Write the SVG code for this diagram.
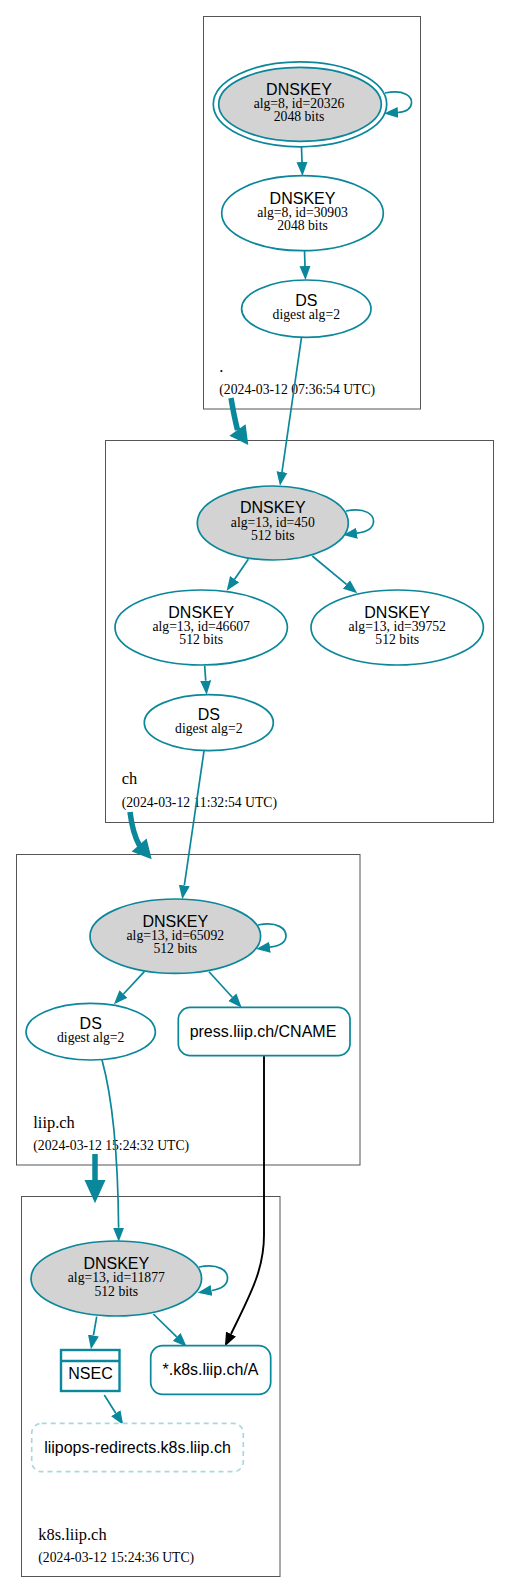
<svg xmlns="http://www.w3.org/2000/svg" width="509" height="1594" viewBox="0 0 509 1594">
<style>
.cl{fill:#fff;stroke:#555;stroke-width:1}
.n{fill:#fff;stroke:#0a879a;stroke-width:1.7}
.k{fill:#d3d3d3;stroke:#0a879a;stroke-width:1.7}
.e{fill:none;stroke:#0a879a;stroke-width:1.7}
.eb{fill:none;stroke:#000;stroke-width:1.9}
.et{fill:none;stroke:#0a879a;stroke-width:5.5}
.ah{fill:#0a879a}
.dash{fill:#fff;stroke:#a9d7df;stroke-width:1.7;stroke-dasharray:5,4}
.nsec{fill:#fff;stroke:#0a879a;stroke-width:2.4}
.h{font-family:"Liberation Sans",Arial,sans-serif;font-size:16px;fill:#000;text-anchor:middle}
.t{font-family:"Liberation Serif","Times New Roman",serif;font-size:13.7px;fill:#000;text-anchor:middle}
.cn{font-family:"Liberation Serif","Times New Roman",serif;font-size:16.4px;fill:#000}
.ts{font-family:"Liberation Serif","Times New Roman",serif;font-size:13.7px;fill:#000}
</style>
<defs>
<marker id="arr" markerUnits="userSpaceOnUse" markerWidth="15" markerHeight="12" viewBox="0 -6 15 12" refX="0" refY="0" orient="auto"><path d="M0,-5.5 L14,0 L0,5.5 z" fill="#0a879a"/></marker>
<marker id="arrb" markerUnits="userSpaceOnUse" markerWidth="15" markerHeight="12" viewBox="0 -6 15 12" refX="0" refY="0" orient="auto"><path d="M0,-5.5 L14,0 L0,5.5 z" fill="#000"/></marker>
</defs>
<g id="clusters">
<g id="cluster-root"><rect class="cl" x="203.5" y="16.5" width="217" height="392.5"/><text class="cn" x="219.3" y="371.7">.</text><text class="ts" x="219.3" y="394">(2024-03-12 07:36:54 UTC)</text></g>
<g id="cluster-ch"><rect class="cl" x="105.5" y="440.5" width="388" height="382"/><text class="cn" x="121.7" y="784">ch</text><text class="ts" x="121.7" y="807.3">(2024-03-12 11:32:54 UTC)</text></g>
<g id="cluster-liip"><rect class="cl" x="16.5" y="854.5" width="343.5" height="310.5"/><text class="cn" x="33.3" y="1128.3">liip.ch</text><text class="ts" x="33.3" y="1150">(2024-03-12 15:24:32 UTC)</text></g>
<g id="cluster-k8s"><rect class="cl" x="21.5" y="1196.5" width="258.5" height="380"/><text class="cn" x="38.3" y="1540">k8s.liip.ch</text><text class="ts" x="38.3" y="1561.7">(2024-03-12 15:24:36 UTC)</text></g>
</g>
<g id="connectors">
<path class="et" d="M231,398 C233,410 235,420 237.5,430"/>
<polygon class="ah" points="248.3,445 245.6,424.2 229.4,435.8"/>
<path class="et" d="M130,812 C131.5,824 134,836 139.5,845.5"/>
<polygon class="ah" points="151.7,859.3 146.6,838.4 131.6,851.6"/>
<path class="et" d="M95,1154 V1182"/>
<polygon class="ah" points="95,1203.3 84.5,1180 105.5,1180"/>
<path class="e" marker-end="url(#arr)" d="M385,93 C405,89 412,97 411.5,103 C411,109 405,112 398,112.5"/>
<path class="e" marker-end="url(#arr)" d="M301.5,147 L302,162"/>
<path class="e" marker-end="url(#arr)" d="M304.5,250.7 L305,266"/>
<path class="e" marker-end="url(#arr)" d="M301.5,337.5 L282,472"/>
<path class="e" marker-end="url(#arr)" d="M346,511 C366,507 374,515 373.5,522 C373,529 366,532 357,533.2"/>
<path class="e" marker-end="url(#arr)" d="M248.3,559.3 L234.6,579.2"/>
<path class="e" marker-end="url(#arr)" d="M312.3,556 L346.5,584.4"/>
<path class="e" marker-end="url(#arr)" d="M204.7,665.7 L205.7,680.7"/>
<path class="e" marker-end="url(#arr)" d="M204,751 L184.3,885.5"/>
<path class="e" marker-end="url(#arr)" d="M258,925 C278,921 286,929 286,936 C286,943 279,946 270,947.2"/>
<path class="e" marker-end="url(#arr)" d="M144.3,971.7 L123.5,994"/>
<path class="e" marker-end="url(#arr)" d="M209,971.7 L232.3,997.3"/>
<path class="e" marker-end="url(#arr)" d="M102,1060 C113,1100 118,1160 118.6,1227.7"/>
<path class="eb" marker-end="url(#arrb)" d="M264,1056 V1235 C264,1270 250,1295 231,1334"/>
<path class="e" marker-end="url(#arr)" d="M199,1267 C219,1263 227.5,1271 227.5,1278 C227.5,1285 221,1289 211.5,1290.5"/>
<path class="e" marker-end="url(#arr)" d="M96.7,1316.7 L93.4,1335.5"/>
<path class="e" marker-end="url(#arr)" d="M153.3,1314 L176.7,1336.9"/>
<path class="e" marker-end="url(#arr)" d="M104.3,1395 L115.8,1413.2"/>
</g>
<g id="root-ksk"><ellipse class="n" cx="300" cy="104.3" rx="86.7" ry="42.5"/><ellipse class="k" cx="300" cy="104.3" rx="81.3" ry="37"/><text class="h" x="299" y="94.5">DNSKEY</text><text class="t" x="299" y="107.8">alg=8, id=20326</text><text class="t" x="299" y="120.8">2048 bits</text></g>
<g id="root-zsk"><ellipse class="n" cx="302.5" cy="213.2" rx="80.8" ry="37.5"/><text class="h" x="302.5" y="204">DNSKEY</text><text class="t" x="302.5" y="217.3">alg=8, id=30903</text><text class="t" x="302.5" y="230.3">2048 bits</text></g>
<g id="root-ds"><ellipse class="n" cx="306.3" cy="308.7" rx="64.7" ry="28.7"/><text class="h" x="306.3" y="306">DS</text><text class="t" x="306.3" y="319">digest alg=2</text></g>
<g id="ch-ksk"><ellipse class="k" cx="272.8" cy="523" rx="75.5" ry="37"/><text class="h" x="272.8" y="513.3">DNSKEY</text><text class="t" x="272.8" y="526.7">alg=13, id=450</text><text class="t" x="272.8" y="539.5">512 bits</text></g>
<g id="ch-zsk-46607"><ellipse class="n" cx="201.2" cy="627.5" rx="86.2" ry="37.5"/><text class="h" x="201.2" y="618.3">DNSKEY</text><text class="t" x="201.2" y="631">alg=13, id=46607</text><text class="t" x="201.2" y="644.3">512 bits</text></g>
<g id="ch-zsk-39752"><ellipse class="n" cx="397.2" cy="627.5" rx="86.2" ry="37.5"/><text class="h" x="397.2" y="618.3">DNSKEY</text><text class="t" x="397.2" y="631">alg=13, id=39752</text><text class="t" x="397.2" y="644.3">512 bits</text></g>
<g id="ch-ds"><ellipse class="n" cx="208.8" cy="722.7" rx="64.5" ry="28"/><text class="h" x="208.8" y="720">DS</text><text class="t" x="208.8" y="732.8">digest alg=2</text></g>
<g id="liip-ksk"><ellipse class="k" cx="175.3" cy="936.2" rx="85.3" ry="37.2"/><text class="h" x="175.3" y="926.7">DNSKEY</text><text class="t" x="175.3" y="940">alg=13, id=65092</text><text class="t" x="175.3" y="953.3">512 bits</text></g>
<g id="liip-ds"><ellipse class="n" cx="90.7" cy="1031.7" rx="64.7" ry="28.3"/><text class="h" x="90.7" y="1028.5">DS</text><text class="t" x="90.7" y="1042">digest alg=2</text></g>
<g id="liip-cname"><rect class="n" x="178.3" y="1007.3" width="171.7" height="48.4" rx="12"/><text class="h" x="263" y="1036.5">press.liip.ch/CNAME</text></g>
<g id="k8s-ksk"><ellipse class="k" cx="116.3" cy="1278.5" rx="85.3" ry="37.5"/><text class="h" x="116.3" y="1268.5">DNSKEY</text><text class="t" x="116.3" y="1281.8">alg=13, id=11877</text><text class="t" x="116.3" y="1295.5">512 bits</text></g>
<g id="k8s-nsec"><rect class="nsec" x="61" y="1350" width="58.5" height="41"/><line class="nsec" x1="61" y1="1361" x2="119.5" y2="1361"/><text class="h" x="90.5" y="1379">NSEC</text></g>
<g id="k8s-a"><rect class="n" x="150.7" y="1345.7" width="120" height="48.6" rx="12"/><text class="h" x="210.5" y="1374.8">*.k8s.liip.ch/A</text></g>
<g id="k8s-liipops"><rect class="dash" x="31.7" y="1423.3" width="211.6" height="48.4" rx="10"/><text class="h" x="137.5" y="1452.5">liipops-redirects.k8s.liip.ch</text></g>
</svg>
